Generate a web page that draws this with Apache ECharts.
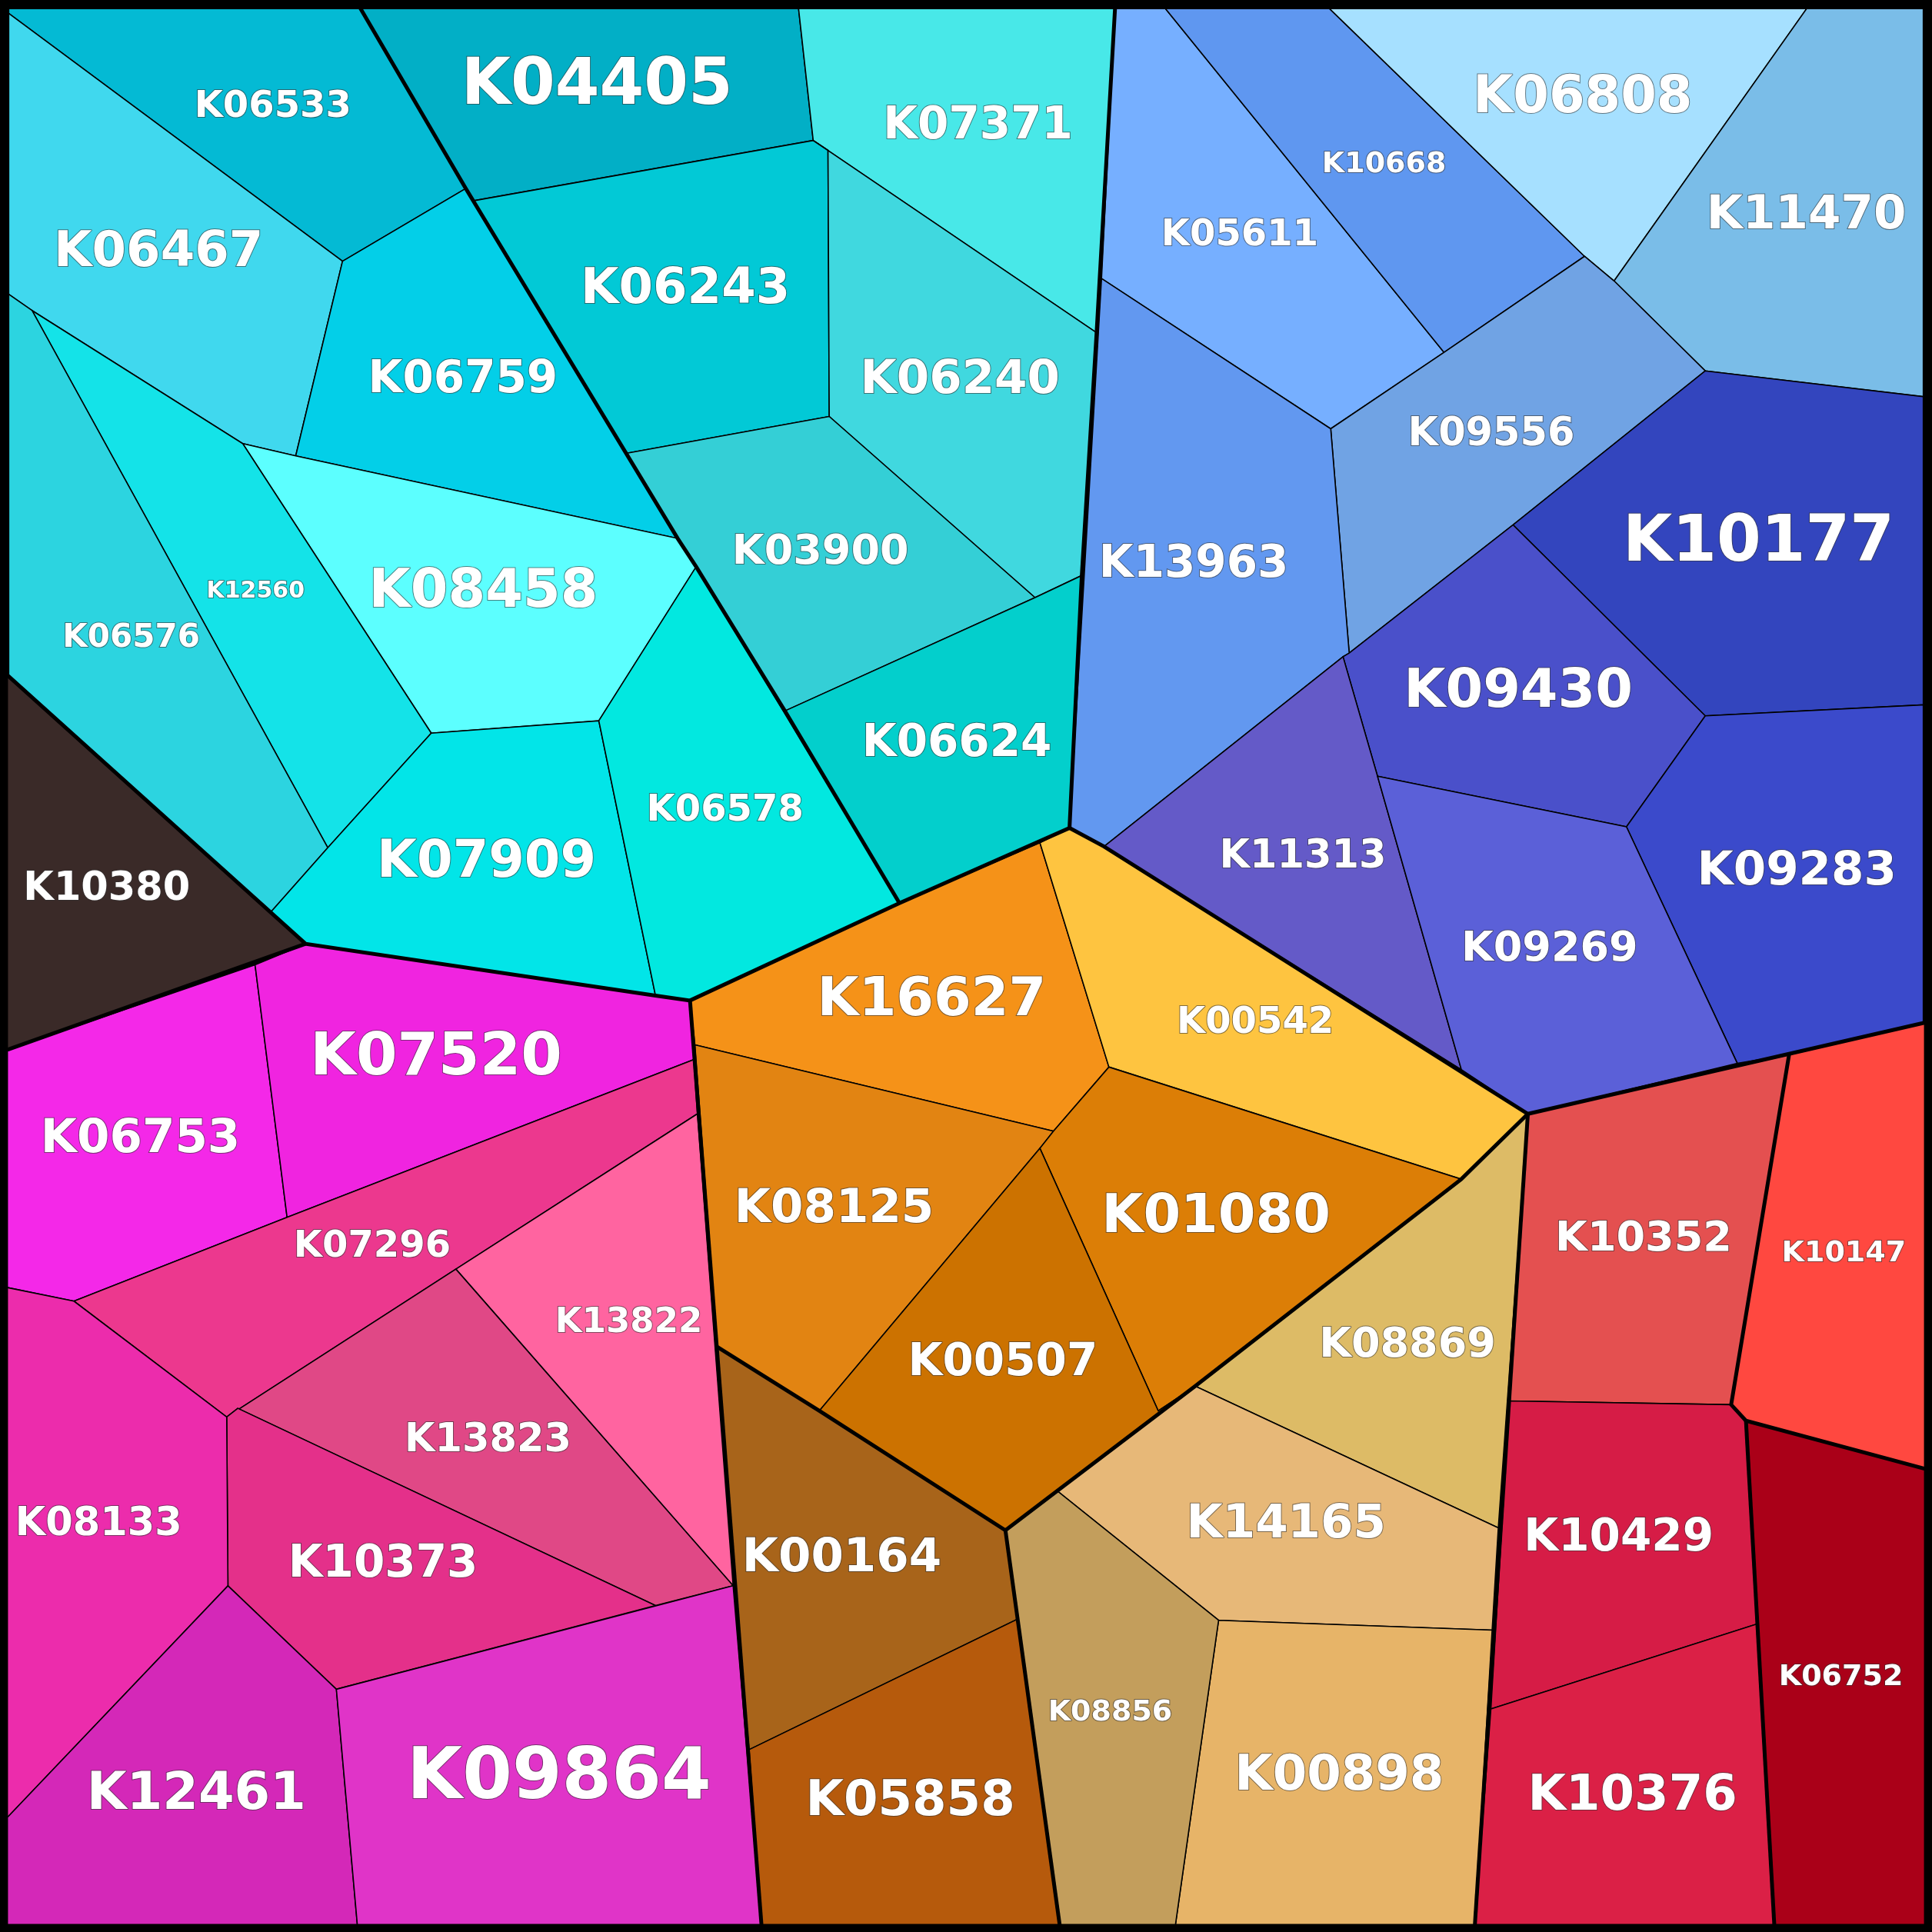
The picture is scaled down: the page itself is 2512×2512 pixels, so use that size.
<!DOCTYPE html>
<html><head><meta charset="utf-8">
<script src="https://cdn.jsdelivr.net/npm/echarts@6/dist/echarts.min.js"></script>
<style>html,body{margin:0;padding:0;background:#000}#c{width:2512px;height:2512px}</style>
</head><body><div id="c"></div>
<script>
// Cell names
const names = ["K06533","K06467","K06759","K04405","K07371","K06243","K06240","K03900","K06624","K08458","K12560","K06576","K07909","K06578","K10380",
"K05611","K10668","K06808","K11470","K09556","K13963","K10177","K09430","K09283","K11313","K09269",
"K16627","K00542","K08125","K01080","K00507","K08869","K14165","K00898","K08856","K00164","K05858",
"K10352","K10147","K10429","K10376","K06752",
"K06753","K07520","K07296","K13822","K13823","K10373","K08133","K12461","K09864"];
// Relative weights (drive label size)
const weights = [30,40,36,52,36,40,38,34,36,44,19,26,42,30,32,
30,24,42,38,32,36,52,44,38,32,34,
44,30,38,44,36,34,38,40,24,38,40,
34,24,36,40,24,
38,48,30,28,32,36,32,42,58];
// Cell polygons in a 0..1568 unit space
const cells = [
[[6,6],[292,6],[378,153],[278,212],[6,10]],
[[6,10],[278,212],[240,370],[197,360],[26,252],[6,238]],
[[278,212],[378,153],[550,437],[240,370]],
[[292,6],[648,6],[660,114],[384,163]],
[[648,6],[905,6],[890,270],[660,114]],
[[384,163],[660,114],[672,122],[673,338],[508,368]],
[[660,114],[890,270],[878,467],[840,485],[673,338],[672,122]],
[[508,368],[673,338],[840,485],[637,577],[565,460],[550,437]],
[[637,577],[840,485],[878,467],[868,672],[730,733]],
[[197,360],[240,370],[550,437],[565,460],[486,585],[350,595]],
[[26,252],[197,360],[350,595],[266,688]],
[[6,238],[26,252],[266,688],[220,740],[6,548]],
[[220,740],[266,688],[350,595],[486,585],[532,808],[248,766]],
[[486,585],[565,460],[730,733],[560,812],[532,808]],
[[6,548],[248,766],[6,852]],
[[905,6],[945,6],[1172,286],[1080,348],[894,226]],
[[945,6],[1078,6],[1286,208],[1172,286]],
[[1078,6],[1467,6],[1310,228],[1286,208]],
[[1467,6],[1562,6],[1562,322],[1384,301],[1310,228]],
[[1172,286],[1286,208],[1310,228],[1384,301],[1228,426],[1095,530],[1080,348]],
[[894,226],[1080,348],[1095,530],[1090,533],[896,687],[868,672]],
[[1384,301],[1562,322],[1562,572],[1384,581],[1228,426]],
[[1228,426],[1384,581],[1320,671],[1118,630],[1090,533],[1095,530]],
[[1384,581],[1562,572],[1562,830],[1452,856],[1410,863],[1320,671]],
[[1090,533],[1118,630],[1186,868],[896,687]],
[[1118,630],[1320,671],[1410,863],[1240,904],[1186,868]],
[[560,812],[730,733],[844,684],[900,866],[855,918],[564,848]],
[[844,684],[868,672],[896,687],[1240,904],[1186,957],[900,866]],
[[564,848],[855,918],[844,932],[665,1145],[582,1093]],
[[900,866],[1186,957],[970,1125],[940,1145],[844,932],[855,918]],
[[844,932],[940,1145],[970,1125],[858,1210],[816,1242],[665,1145]],
[[1186,957],[1240,904],[1216,1240],[970,1125]],
[[970,1125],[1216,1240],[1211,1323],[989,1315],[858,1210]],
[[989,1315],[1211,1323],[1197,1562],[954,1562]],
[[816,1242],[858,1210],[989,1315],[954,1562],[860,1562],[826,1314]],
[[582,1093],[665,1145],[816,1242],[826,1314],[608,1420],[595,1287]],
[[608,1420],[826,1314],[860,1562],[618,1562]],
[[1240,904],[1452,856],[1405,1140],[1225,1137]],
[[1452,856],[1562,830],[1562,1192],[1417,1153],[1405,1140]],
[[1225,1137],[1405,1140],[1417,1153],[1426,1318],[1210,1387]],
[[1210,1387],[1426,1318],[1440,1562],[1197,1562]],
[[1417,1153],[1562,1192],[1562,1562],[1440,1562]],
[[6,852],[207,783],[233,988],[60,1056],[6,1045]],
[[207,783],[248,766],[560,812],[563,860],[233,988]],
[[60,1056],[233,988],[563,860],[566,904],[370,1030],[184,1150]],
[[370,1030],[566,904],[595,1287]],
[[184,1150],[370,1030],[595,1287],[532,1303],[193,1143]],
[[193,1143],[532,1303],[273,1371],[185,1287],[184,1150]],
[[6,1045],[60,1056],[184,1150],[185,1287],[6,1475]],
[[6,1475],[185,1287],[273,1371],[290,1562],[6,1562]],
[[273,1371],[595,1287],[618,1562],[290,1562]]
];
const palette = ["#04BAD4","#40D8EE","#03CFE8","#02AFC6","#48E8E8","#02C9D6","#40D8DF","#34CFD6","#03CFCC","#5CFFFF","#14E3E8","#2CD4E0","#02E5E8","#02E8E0","#3A2A28",
"#76AFFF","#5F97F0","#A6E0FF","#7ABDE8","#70A3E4","#6298F0","#3345BE","#4A50CA","#3B4ACB","#645AC8","#5B60D8",
"#F59218","#FEC440","#E28412","#DC7E06","#CC7200","#DDBB66","#E7B878","#E7B468","#C39E5C","#A8641A","#B65A0C",
"#E45050","#FF4840","#D61C46","#DB2046","#AA0018",
"#F428E8","#F024E0","#EC388E","#FF64A0","#E04886","#E4308A","#EC2CAC","#D428B8","#E034C8"];
// Group outlines and sub-group boundaries
const groupLines = [
[[6,6],[905,6],[890,270],[878,467],[868,672],[730,733],[560,812],[532,808],[248,766],[6,548],[6,6]],
[[905,6],[1562,6],[1562,830],[1240,904],[896,687],[868,672]],
[[560,812],[618,1562]],[[1240,904],[1197,1562]],[[248,766],[6,852]],
[[292,6],[378,153],[550,437],[565,460],[637,577],[730,733]],
[[582,1093],[665,1145],[816,1242],[858,1210],[970,1125],[1186,957],[1240,904]],
[[816,1242],[860,1562]],[[1452,856],[1405,1140],[1417,1153],[1562,1192]],[[1417,1153],[1440,1562]]
];
const S = 2512/1568;
function centroid(p){let a=0,cx=0,cy=0;for(let i=0;i<p.length;i++){const [x0,y0]=p[i],[x1,y1]=p[(i+1)%p.length];const f=x0*y1-x1*y0;a+=f;cx+=(x0+x1)*f;cy+=(y0+y1)*f;}a/=2;return [cx/(6*a),cy/(6*a)];}
const chart = echarts.init(document.getElementById('c'));
chart.setOption({
  animation:false, backgroundColor:'#000',
  grid:{left:0,right:0,top:0,bottom:0},
  xAxis:{type:'value',min:0,max:1568,show:false},
  yAxis:{type:'value',min:0,max:1568,inverse:true,show:false},
  series:[
  {type:'custom',coordinateSystem:'cartesian2d',data:names.map((n,i)=>[i]),
   renderItem:function(params,api){const i=api.value(0);const pts=cells[i].map(p=>api.coord(p));
     const c=api.coord(centroid(cells[i]));
     return {type:'group',children:[
      {type:'polygon',shape:{points:pts},style:{fill:palette[i],stroke:'#000',lineWidth:1.6}},
      {type:'text',x:c[0],y:c[1],z2:10,style:{text:names[i],fill:'#fff',font:'bold '+Math.round(weights[i]*S)+'px "DejaVu Sans"',align:'center',verticalAlign:'middle',stroke:'rgba(50,50,50,0.6)',lineWidth:2}}
     ]};}},
  {type:'custom',coordinateSystem:'cartesian2d',data:groupLines.map((g,i)=>[i]),z:5,
   renderItem:function(params,api){const i=api.value(0);return {type:'polyline',shape:{points:groupLines[i].map(p=>api.coord(p))},style:{stroke:'#000',lineWidth:5,fill:null}};}}
  ]
});
</script></body></html>
